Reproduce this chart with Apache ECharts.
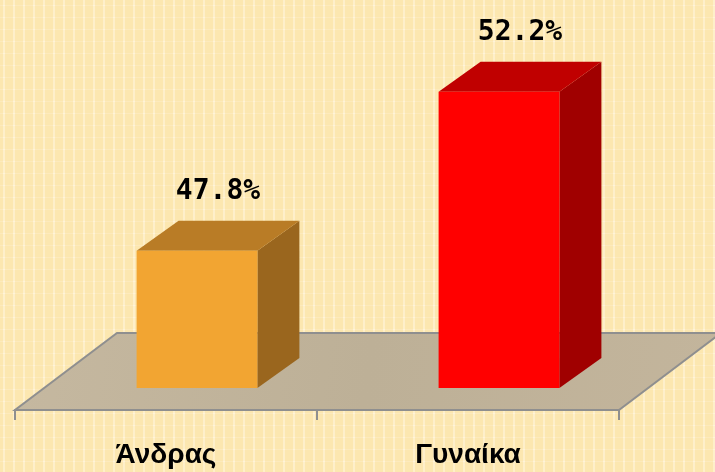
<!DOCTYPE html>
<html>
<head>
<meta charset="utf-8">
<script src="https://cdn.jsdelivr.net/npm/echarts@6/dist/echarts.min.js"></script>
<style>
  html, body { margin: 0; padding: 0; background: #fce8b3; }
  #main { width: 715px; height: 472px; }
</style>
</head>
<body>
<div id="main"></div>
<script>
// data
var categories = ['Άνδρας', 'Γυναίκα'];
var values = [47.8, 52.2];
var frontColors = ['#f2a532', '#ff0000'];
var topColors = ['#b97c26', '#c00000'];
var sideColors = ['#9a661e', '#a00000'];

var yMin = 44, yMax = 54;

// 3d look
var SHIFT_X = 31, SHIFT_Y = -22;   // bars stand a bit back on the floor
var DX = 42, DY = -30;             // bar depth
var FLOOR_DX = 102, FLOOR_DY = -77; // floor depth

// striped wallpaper tile
function makeTile() {
  var c = document.createElement('canvas');
  c.width = 10; c.height = 12;
  var g = c.getContext('2d');
  g.fillStyle = '#fce7b0';
  g.fillRect(0, 0, 10, 12);
  g.fillStyle = '#feefca';
  g.fillRect(3, 0, 2, 12);
  g.fillStyle = '#fdeabd';
  g.fillRect(0, 5, 10, 1);
  g.fillStyle = '#fff4d8';
  g.fillRect(3, 5, 2, 1);
  return c;
}

function renderFloor(params, api) {
  var cs = params.coordSys;
  var l = cs.x, r = cs.x + cs.width, b = cs.y + cs.height;
  var pts = [[l, b], [r, b], [r + FLOOR_DX, b + FLOOR_DY], [l + FLOOR_DX, b + FLOOR_DY]];
  return {
    type: 'polygon',
    shape: { points: pts },
    style: {
      fill: new echarts.graphic.LinearGradient(0, 0, 1, 1, [
        { offset: 0, color: '#c5b8a0' },
        { offset: 0.5, color: '#bdb097' },
        { offset: 1, color: '#c3b59c' }
      ]),
      stroke: '#8f8f8f',
      lineWidth: 2
    }
  };
}

function renderBar(params, api) {
  var i = params.dataIndex;
  var cat = api.value(0), val = api.value(1);
  var top = api.coord([cat, val]);
  var base = api.coord([cat, yMin]);
  var w = api.size([1, 0])[0] * 0.4;
  var x0 = base[0] - w / 2 + SHIFT_X, x1 = x0 + w;
  var yb = base[1] + SHIFT_Y, yt = top[1] + SHIFT_Y;
  return {
    type: 'group',
    children: [
      {
        type: 'polygon',
        shape: { points: [[x1, yb], [x1 + DX, yb + DY], [x1 + DX, yt + DY], [x1, yt]] },
        style: { fill: sideColors[i] }
      },
      {
        type: 'polygon',
        shape: { points: [[x0, yt], [x1, yt], [x1 + DX, yt + DY], [x0 + DX, yt + DY]] },
        style: { fill: topColors[i] }
      },
      {
        type: 'rect',
        shape: { x: x0, y: yt, width: w, height: yb - yt },
        style: { fill: frontColors[i] }
      },
      {
        type: 'text',
        style: {
          text: val.toFixed(1) + '%',
          x: (x0 + x1) / 2 + DX / 2,
          y: yt + DY - 15,
          align: 'center',
          verticalAlign: 'bottom',
          fontFamily: 'DejaVu Sans Mono',
          fontWeight: 'bold',
          fontSize: 28,
          fill: '#000'
        }
      }
    ]
  };
}

var chart = echarts.init(document.getElementById('main'));
chart.setOption({
  backgroundColor: { image: makeTile(), repeat: 'repeat' },
  animation: false,
  grid: { left: 15, right: 96, top: 48.6, bottom: 62 },
  xAxis: {
    type: 'category',
    data: categories,
    axisLine: { show: true, lineStyle: { color: '#8f8f8f', width: 2 } },
    axisTick: { show: true, alignWithLabel: false, length: 10, lineStyle: { color: '#8f8f8f', width: 2 } },
    axisLabel: {
      margin: 31,
      color: '#000',
      fontFamily: 'Liberation Sans',
      fontWeight: 'bold',
      fontSize: 28
    },
    z: 5
  },
  yAxis: {
    type: 'value',
    min: yMin,
    max: yMax,
    show: false,
    splitLine: { show: false }
  },
  series: [
    {
      type: 'custom',
      clip: false,
      silent: true,
      z: 1,
      data: [[0, yMin]],
      renderItem: renderFloor
    },
    {
      type: 'custom',
      clip: false,
      z: 3,
      encode: { x: 0, y: 1 },
      data: values.map(function (v, i) { return [i, v]; }),
      renderItem: renderBar
    }
  ]
});
</script>
</body>
</html>
